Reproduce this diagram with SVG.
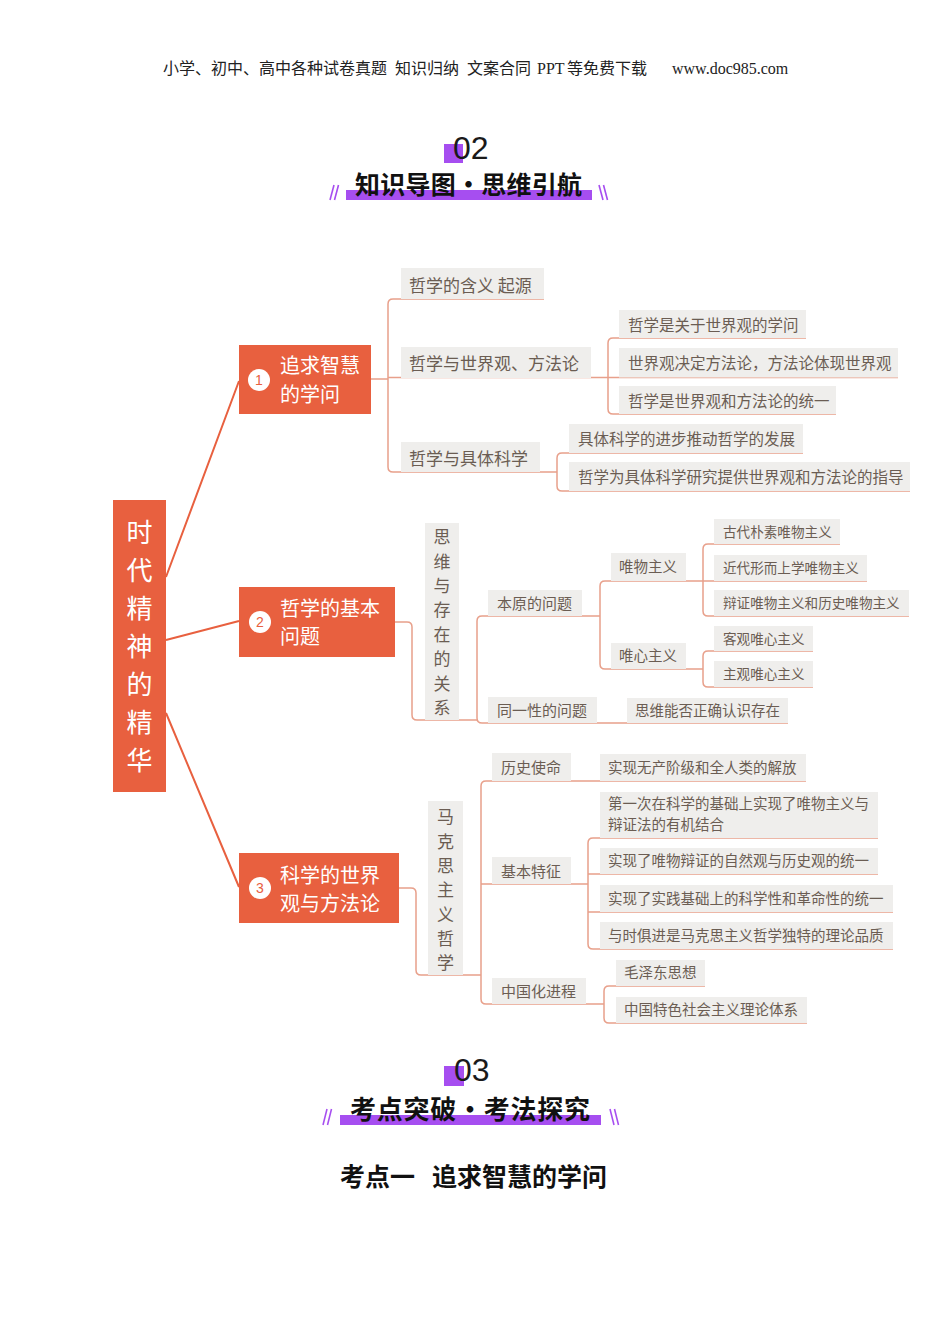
<svg xmlns="http://www.w3.org/2000/svg" width="950" height="1344" viewBox="0 0 950 1344">
<style>
.cn{font-family:"Noto Sans CJK SC","Noto Sans",sans-serif}
.box{fill:#efeeec}
.lt{fill:#6b5d53}
.main{fill:#e8603f}
.w{fill:#ffffff}
.num{fill:#e8603f;font-family:"Liberation Sans",sans-serif;font-size:14px;text-anchor:middle}
.c{fill:none;stroke:#e8a08b;stroke-width:1.5}
.cm{fill:none;stroke:#e8603f;stroke-width:2}
.pur{fill:#a64ef0}
.sl{stroke:#a64ef0;stroke-width:1.6}
.ttl{font-family:"Noto Sans CJK SC",sans-serif;font-weight:bold;fill:#111}
.dig{font-family:"Liberation Sans",sans-serif;fill:#1a1a1a}
.vt{text-anchor:middle}
</style>
<rect width="950" height="1344" fill="#ffffff"/>

<g id="header">
<text y="74" font-family="'Liberation Serif','Noto Sans CJK SC',serif" font-size="16" fill="#222"><tspan x="163">小学、初中、高中各种试卷真题</tspan><tspan x="395">知识归纳</tspan><tspan x="467">文案合同</tspan><tspan x="537">PPT</tspan><tspan x="567">等免费下载</tspan><tspan x="672">www.doc985.com</tspan></text>
</g>

<g id="title02">
<rect class="pur" x="444" y="144" width="19" height="19"/>
<text class="dig" x="453" y="158.5" font-size="32">02</text>
<rect class="pur" x="346" y="190" width="246" height="10"/>
<text class="ttl" x="468.5" y="193.5" font-size="25" text-anchor="middle" textLength="227">知识导图•思维引航</text>
<line class="sl" x1="330" y1="200" x2="334" y2="185"/>
<line class="sl" x1="334.5" y1="200" x2="338.5" y2="185"/>
<line class="sl" x1="599" y1="185" x2="603" y2="200"/>
<line class="sl" x1="603.5" y1="185" x2="607.5" y2="200"/>
</g>

<g id="connectors">
<path class="cm" d="M166 577 L239 381 M166 640 L239 621 M166 713 L239 887"/>
<path class="c" d="M371 379 H388 M544 299 H393 Q388 299 388 304 V467 Q388 472 393 472 H557 M388 377.5 H898"/>
<path class="c" d="M806 338 H613 Q608 338 608 343 V409 Q608 414 613 414 H836"/>
<path class="c" d="M803 453 H562 Q557 453 557 458 V486 Q557 491 562 491 H910"/>
<path class="c" d="M395 622 H407 Q412 622 412 627 V715 Q412 720 417 720 H477"/>
<path class="c" d="M582 616 H482 Q477 616 477 621 V718 Q477 723 482 723 H788 M582 616 H600"/>
<path class="c" d="M686 581 H605 Q600 581 600 586 V664 Q600 669 605 669 H703"/>
<path class="c" d="M840 544 H708 Q703 544 703 549 V611 Q703 616 708 616 H909 M686 581 H867"/>
<path class="c" d="M813 651 H708 Q703 651 703 656 V682 Q703 687 708 687 H813"/>
<path class="c" d="M399 888 H411 Q416 888 416 893 V970 Q416 975 421 975 H481"/>
<path class="c" d="M806 781 H486 Q481 781 481 786 V999 Q481 1004 486 1004 H604 M481 884 H588"/>
<path class="c" d="M878 838 H593 Q588 838 588 843 V944 Q588 949 593 949 H893 M588 874 H878 M588 912 H893"/>
<path class="c" d="M705 986 H609 Q604 986 604 991 V1018 Q604 1023 609 1023 H807"/>
</g>

<g id="root">
<rect class="main" x="113" y="500" width="53" height="292"/>
<text class="cn w vt" font-size="26"><tspan x="139.5" y="542">时</tspan><tspan x="139.5" y="580">代</tspan><tspan x="139.5" y="618">精</tspan><tspan x="139.5" y="656">神</tspan><tspan x="139.5" y="694">的</tspan><tspan x="139.5" y="732">精</tspan><tspan x="139.5" y="770">华</tspan></text>
</g>

<g id="n1">
<rect class="main" x="239" y="345" width="132" height="69"/>
<circle class="w" cx="259" cy="380" r="11"/>
<text class="num" x="259" y="385">1</text>
<text class="cn w" font-size="20"><tspan x="280" y="373">追求智慧</tspan><tspan x="280" y="402">的学问</tspan></text>
</g>
<g id="n2">
<rect class="main" x="239" y="587" width="156" height="70"/>
<circle class="w" cx="260" cy="622" r="11"/>
<text class="num" x="260" y="627">2</text>
<text class="cn w" font-size="20"><tspan x="280" y="616">哲学的基本</tspan><tspan x="280" y="644">问题</tspan></text>
</g>
<g id="n3">
<rect class="main" x="239" y="853" width="160" height="70"/>
<circle class="w" cx="260" cy="888" r="11"/>
<text class="num" x="260" y="893">3</text>
<text class="cn w" font-size="20"><tspan x="280" y="883">科学的世界</tspan><tspan x="280" y="911">观与方法论</tspan></text>
</g>

<g id="n1a"><rect class="box" x="401" y="268" width="143" height="31"/><text class="cn lt" x="409" y="291.5" font-size="17">哲学的含义 起源</text></g>
<g id="n1b"><rect class="box" x="401" y="347" width="190" height="31"/><text class="cn lt" x="409" y="370" font-size="17">哲学与世界观、方法论</text></g>
<g id="n1c"><rect class="box" x="401" y="442" width="139" height="30"/><text class="cn lt" x="409" y="465" font-size="17">哲学与具体科学</text></g>
<g id="n1b1"><rect class="box" x="619" y="310" width="187" height="28"/><text class="cn lt" x="628" y="330.5" font-size="15.5">哲学是关于世界观的学问</text></g>
<g id="n1b2"><rect class="box" x="619" y="348" width="279" height="29.5"/><text class="cn lt" x="628" y="368.5" font-size="15.5">世界观决定方法论，方法论体现世界观</text></g>
<g id="n1b3"><rect class="box" x="619" y="386" width="217" height="28"/><text class="cn lt" x="628" y="406.5" font-size="15.5">哲学是世界观和方法论的统一</text></g>
<g id="n1c1"><rect class="box" x="569" y="424" width="234" height="29"/><text class="cn lt" x="578" y="444.5" font-size="15.5">具体科学的进步推动哲学的发展</text></g>
<g id="n1c2"><rect class="box" x="569" y="462" width="341" height="29"/><text class="cn lt" x="578" y="482.5" font-size="15.5">哲学为具体科学研究提供世界观和方法论的指导</text></g>

<g id="n2v"><rect class="box" x="425" y="523" width="34" height="197"/><text class="cn lt vt" font-size="17"><tspan x="442" y="543">思</tspan><tspan x="442" y="568">维</tspan><tspan x="442" y="592">与</tspan><tspan x="442" y="616">存</tspan><tspan x="442" y="641">在</tspan><tspan x="442" y="665">的</tspan><tspan x="442" y="690">关</tspan><tspan x="442" y="714">系</tspan></text></g>
<g id="n2a"><rect class="box" x="488" y="590" width="94" height="26"/><text class="cn lt" x="497" y="608.5" font-size="15">本原的问题</text></g>
<g id="n2b"><rect class="box" x="488" y="697" width="109" height="26"/><text class="cn lt" x="497" y="715.5" font-size="15">同一性的问题</text></g>
<g id="n2a1"><rect class="box" x="611" y="553" width="75" height="28"/><text class="cn lt" x="619" y="572" font-size="14.5">唯物主义</text></g>
<g id="n2a2"><rect class="box" x="611" y="643" width="75" height="26"/><text class="cn lt" x="619" y="661" font-size="14.5">唯心主义</text></g>
<g id="n2a1a"><rect class="box" x="714" y="519" width="126" height="25"/><text class="cn lt" x="723" y="537" font-size="13.6">古代朴素唯物主义</text></g>
<g id="n2a1b"><rect class="box" x="714" y="555" width="153" height="26"/><text class="cn lt" x="723" y="573" font-size="13.6">近代形而上学唯物主义</text></g>
<g id="n2a1c"><rect class="box" x="714" y="590" width="195" height="26"/><text class="cn lt" x="723" y="608" font-size="13.6">辩证唯物主义和历史唯物主义</text></g>
<g id="n2a2a"><rect class="box" x="714" y="626" width="99" height="25"/><text class="cn lt" x="723" y="643.5" font-size="13.6">客观唯心主义</text></g>
<g id="n2a2b"><rect class="box" x="714" y="661" width="99" height="26"/><text class="cn lt" x="723" y="679" font-size="13.6">主观唯心主义</text></g>
<g id="n2b1"><rect class="box" x="627" y="698" width="161" height="25"/><text class="cn lt" x="635" y="715.5" font-size="14.5">思维能否正确认识存在</text></g>

<g id="n3v"><rect class="box" x="428" y="801" width="35" height="174"/><text class="cn lt vt" font-size="17"><tspan x="445.5" y="823">马</tspan><tspan x="445.5" y="848">克</tspan><tspan x="445.5" y="872">思</tspan><tspan x="445.5" y="896">主</tspan><tspan x="445.5" y="921">义</tspan><tspan x="445.5" y="945">哲</tspan><tspan x="445.5" y="969">学</tspan></text></g>
<g id="n3a"><rect class="box" x="492" y="753" width="79" height="28"/><text class="cn lt" x="501" y="772.5" font-size="15">历史使命</text></g>
<g id="n3b"><rect class="box" x="492" y="857" width="79" height="27"/><text class="cn lt" x="501" y="876.5" font-size="15">基本特征</text></g>
<g id="n3c"><rect class="box" x="492" y="978" width="94" height="26"/><text class="cn lt" x="501" y="996.5" font-size="15">中国化进程</text></g>
<g id="n3a1"><rect class="box" x="600" y="754" width="206" height="27"/><text class="cn lt" x="608" y="773" font-size="14.5">实现无产阶级和全人类的解放</text></g>
<g id="n3b1"><rect class="box" x="600" y="792" width="278" height="46"/><text class="cn lt" font-size="14.5"><tspan x="608" y="809">第一次在科学的基础上实现了唯物主义与</tspan><tspan x="608" y="830">辩证法的有机结合</tspan></text></g>
<g id="n3b2"><rect class="box" x="600" y="848" width="278" height="26"/><text class="cn lt" x="608" y="866" font-size="14.5">实现了唯物辩证的自然观与历史观的统一</text></g>
<g id="n3b3"><rect class="box" x="600" y="885" width="293" height="27"/><text class="cn lt" x="608" y="903.5" font-size="14.5">实现了实践基础上的科学性和革命性的统一</text></g>
<g id="n3b4"><rect class="box" x="600" y="922" width="293" height="27"/><text class="cn lt" x="608" y="940.5" font-size="14.5">与时俱进是马克思主义哲学独特的理论品质</text></g>
<g id="n3c1"><rect class="box" x="616" y="960" width="89" height="26"/><text class="cn lt" x="624" y="978" font-size="14.5">毛泽东思想</text></g>
<g id="n3c2"><rect class="box" x="616" y="997" width="191" height="26"/><text class="cn lt" x="624" y="1015" font-size="14.5">中国特色社会主义理论体系</text></g>

<g id="title03">
<rect class="pur" x="444" y="1066" width="20" height="20"/>
<text class="dig" x="454" y="1081" font-size="32">03</text>
<rect class="pur" x="340" y="1115" width="261" height="10"/>
<text class="ttl" x="470" y="1119" font-size="26" text-anchor="middle" textLength="240">考点突破•考法探究</text>
<line class="sl" x1="323" y1="1125" x2="327" y2="1109"/>
<line class="sl" x1="327.5" y1="1125" x2="331.5" y2="1109"/>
<line class="sl" x1="610" y1="1109" x2="614" y2="1125"/>
<line class="sl" x1="614.5" y1="1109" x2="618.5" y2="1125"/>
</g>

<g id="heading">
<text class="ttl" y="1186" font-size="25"><tspan x="340">考点一</tspan><tspan x="432">追求智慧的学问</tspan></text>
</g>
</svg>
